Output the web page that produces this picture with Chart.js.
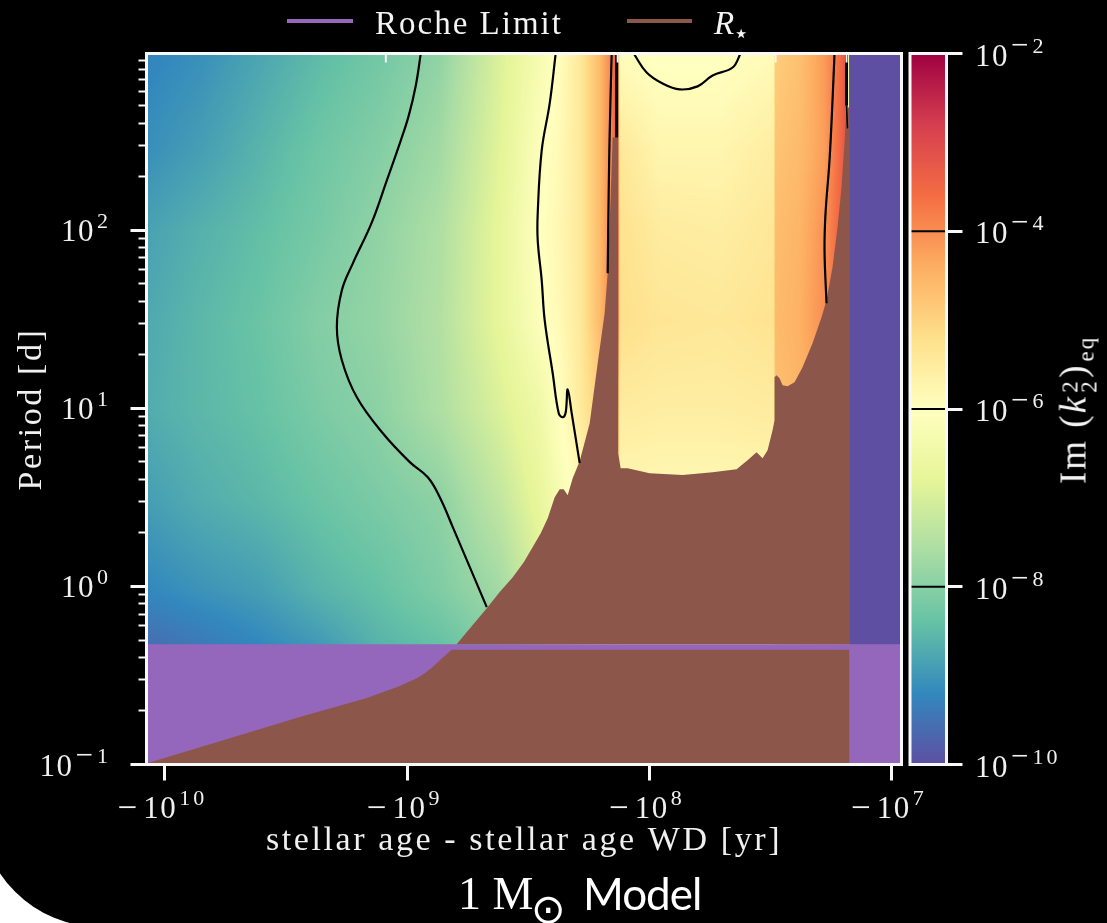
<!DOCTYPE html>
<html>
<head>
<meta charset="utf-8">
<title>1 M Model</title>
<script src="https://cdn.jsdelivr.net/npm/chart.js@4"></script>
<style>
  html, body { margin: 0; height: 100%; background: #fff; overflow: hidden; }
  #slide { position: absolute; left: -20px; top: 0; width: 1127px; height: 927px; background: #000; border-bottom-left-radius: 120px; }
  canvas { position: absolute; left: 0; top: 0; filter: blur(0.5px); }
  .txt { position: absolute; color: #f4f4f4; white-space: nowrap; font-family: "Liberation Serif", serif; font-size: 33px; letter-spacing: 2px; line-height: 1; filter: blur(0.4px); }
  .swatch { position: absolute; height: 4px; top: 19px; filter: blur(0.4px); }
  #cbLabel { left: 1073px; top: 410px; font-size: 37px; letter-spacing: 2px; transform: translate(-50%, -50%) rotate(-90deg); }
  .sm { font-size: 23px; }
  .stack { display: inline-block; position: relative; width: 17px; height: 10px; }
  .stack b { position: absolute; left: 2px; font-weight: normal; font-size: 23px; }
</style>
</head>
<body>
<div id="slide"></div>
<canvas id="grafico" width="1107" height="923"></canvas>
<canvas id="barra" width="1107" height="923"></canvas>

<div class="swatch" style="left:287px;width:66px;background:#9467bd"></div>
<div class="txt" style="left:375px;top:7px">Roche Limit</div>
<div class="swatch" style="left:627px;width:65px;background:#8c564b"></div>
<div class="txt" style="left:714px;top:7px"><i>R</i><span style="position:relative;top:8px;font-size:26px;margin-left:-3px">⋆</span></div>
<div class="txt" style="left:458px;top:871px;font-size:46px;letter-spacing:0;color:#fff">1 M</div>
<div class="txt" style="left:531px;top:889px;font-family:'DejaVu Sans',sans-serif;font-size:41px;letter-spacing:0;color:#fff">⊙</div>
<div class="txt" style="left:583px;top:871px;font-family:Lato,sans-serif;font-size:44px;letter-spacing:-1px;color:#fff">Model</div>
<div class="txt" id="cbLabel">Im (<i>k</i><span class="stack"><b style="top:-17px">2</b><b style="top:2px">2</b></span>)<span class="sm" style="position:relative;top:8px;margin-left:2px">eq</span></div>

<script>
// eixos
const ageMin = 9.09e6, ageMax = 1.192e10;
const periodMin = 0.1, periodMax = 983;
const xTickValues = [1e10, 1e9, 1e8, 1e7];
const xTickExps = ["10", "9", "8", "7"];
const yTickValues = [0.1, 1, 10, 100];
const yTickExps = ["−1", "0", "1", "2"];
const yMinorTicks = [0.2, 0.3, 0.4, 0.5, 0.6, 0.7, 0.8, 0.9, 2, 3, 4, 5, 6, 7, 8, 9, 20, 30, 40, 50, 60, 70, 80, 90, 200, 300, 400, 500, 600, 700, 800, 900];
const cbTickValues = [1e-10, 1e-8, 1e-6, 1e-4, 1e-2];
const cbTickExps = ["−10", "−8", "−6", "−4", "−2"];
const contourLevels = [1e-8, 1e-6, 1e-4];

// Spectral_r
const cmapStops = [-10, -9.2, -8.4, -7.6, -6.8, -6, -5.2, -4.4, -3.6, -2.8, -2];
const cmapColors = ["#5e4fa2", "#3288bd", "#66c2a5", "#abdda4", "#e6f598", "#ffffbf", "#fee08b", "#fdae61", "#f46d43", "#d53e4f", "#9e0142"];

// mapa de calor: log10 da idade, log10 do periodo, log10 de Im(k2)
const heatLogAge = [10.07, 9.856, 9.608, 9.36, 9.113, 8.865, 8.618, 8.453, 8.37, 8.288, 8.205, 8.155, 8.131, 8.122, 7.957, 7.71, 7.503, 7.487, 7.479, 7.38, 7.276, 7.215, 7.182, 7.173, 6.959];
const heatLogPeriod = [2.99, 2.45, 2.0, 1.49, 0.99, 0.48, -0.02, -0.32, -1];
const heatLogK = [
  [-9.25, -9.1, -8.8, -8.5, -8.25, -7.9, -6.95, -6.3, -5.95, -5.45, -4.6, -3.85, -3.1, -5.95, -6.05, -6.05, -5.9, -5.9, -4.9, -4.7, -4.15, -3.6, -3.1, -10, -10],
  [-9.1, -8.9, -8.6, -8.3, -8.05, -7.7, -6.85, -6.1, -5.85, -5.45, -4.6, -3.85, -3.1, -5.4, -5.75, -5.75, -5.55, -5.5, -4.75, -4.6, -4.2, -3.55, -3.1, -10, -10],
  [-8.85, -8.65, -8.45, -8.2, -7.9, -7.55, -6.75, -6.02, -5.8, -5.45, -4.6, -3.85, -3.1, -5.25, -5.5, -5.55, -5.4, -5.4, -4.65, -4.5, -4.05, -3.5, -3.1, -10, -10],
  [-8.75, -8.55, -8.35, -8.05, -7.85, -7.5, -6.75, -6.1, -5.85, -5.45, -4.6, -3.85, -3.1, -5.2, -5.35, -5.4, -5.3, -5.3, -4.6, -4.45, -4.0, -3.6, -3.1, -10, -10],
  [-8.7, -8.55, -8.4, -8.15, -7.95, -7.55, -6.95, -6.5, -6.0, -5.5, -4.9, -4.5, -4.0, -5.5, -5.55, -5.55, -5.5, -5.5, -4.7, -4.5, -4.2, -3.8, -3.5, -10, -10],
  [-8.9, -8.7, -8.55, -8.35, -8.15, -7.95, -7.3, -6.7, -6.3, -5.9, -5.5, -5.0, -4.5, -5.8, -5.85, -5.85, -5.8, -5.8, -4.8, -4.6, -4.3, -4.0, -3.8, -10, -10],
  [-9.2, -9.05, -8.9, -8.6, -8.4, -8.1, -7.7, -7.0, -6.6, -6.2, -5.8, -5.4, -5.0, -5.9, -5.9, -5.9, -5.9, -5.9, -4.9, -4.7, -4.4, -4.2, -4.0, -10, -10],
  [-9.55, -9.4, -9.2, -8.95, -8.6, -8.4, -8.0, -7.4, -7.0, -6.6, -6.2, -5.8, -5.4, -5.9, -5.9, -5.9, -5.9, -5.9, -4.9, -4.7, -4.4, -4.2, -4.0, -10, -10],
  [-9.55, -9.4, -9.2, -8.95, -8.6, -8.4, -8.0, -7.4, -7.0, -6.6, -6.2, -5.8, -5.4, -5.9, -5.9, -5.9, -5.9, -5.9, -4.9, -4.7, -4.4, -4.2, -4.0, -10, -10],
];

// contornos
const c1Age = [8.9436, 8.9642, 8.9931, 9.0261, 9.0839, 9.1458, 9.2242, 9.2696, 9.2902, 9.2696, 9.2077, 9.1004, 8.989, 8.9147, 8.8652, 8.8115, 8.6712];
const c1Per = [2.993, 2.813, 2.645, 2.505, 2.28, 2.044, 1.814, 1.663, 1.455, 1.27, 1.062, 0.86, 0.698, 0.613, 0.501, 0.333, -0.116];
const c2Age = [8.3865, 8.4113, 8.4443, 8.4608, 8.4608, 8.4443, 8.4319, 8.3989, 8.3741, 8.3576, 8.3452, 8.337, 8.3205, 8.2875];
const c2Per = [2.993, 2.712, 2.448, 2.095, 1.943, 1.719, 1.494, 1.197, 0.973, 0.95, 0.978, 1.107, 0.973, 0.692];
const c3Age = [8.1554, 8.1636, 8.1678, 8.1719];
const c3Per = [2.993, 2.544, 2.2, 1.758];
const c4Age = [8.1347, 8.1347];
const c4Per = [2.993, 2.521];
const c5Age = [8.0646, 8.011, 7.9449, 7.8748, 7.8005, 7.7386, 7.6561, 7.6231];
const c5Per = [2.993, 2.886, 2.824, 2.791, 2.808, 2.869, 2.914, 2.993];
const c6Age = [7.2352, 7.2434, 7.2558, 7.2723, 7.2764, 7.2682];
const c6Per = [2.993, 2.729, 2.392, 2.095, 1.887, 1.59];
const c7Age = [7.1857, 7.1857];
const c7Per = [2.993, 2.701];
const c8Age = [7.1857, 7.1815];
const c8Per = [2.701, 2.572];

// marquinhas brancas no topo
const notchAge = [9.088, 8.1306, 7.4786, 7.1857];
const notchPer = [2.993, 2.942];

// raio da estrela (acima e abaixo da faixa do limite de Roche)
const starTopAge = [8.795, 8.6712, 8.6176, 8.5639, 8.5185, 8.4814, 8.4484, 8.4195, 8.3906, 8.37, 8.3535, 8.337, 8.3164, 8.2875, 8.2462, 8.2131, 8.1843, 8.1719, 8.1595, 8.1513, 8.1286, 8.1286, 8.1183, 8.0894, 7.9986, 7.8624, 7.7386, 7.6396, 7.5942, 7.5571, 7.5323, 7.5116, 7.491, 7.4828, 7.4828, 7.4745, 7.4621, 7.4497, 7.4291, 7.4002, 7.3672, 7.3259, 7.2888, 7.2682, 7.2434, 7.2228, 7.2062, 7.1939, 7.1857, 7.1733, 7.1733];
const starTopPer = [-0.324, -0.122, -0.032, 0.052, 0.136, 0.221, 0.299, 0.383, 0.501, 0.546, 0.546, 0.512, 0.608, 0.703, 0.916, 1.253, 1.534, 1.758, 2.185, 2.521, 2.521, 0.748, 0.664, 0.664, 0.636, 0.625, 0.641, 0.658, 0.709, 0.754, 0.72, 0.765, 0.877, 0.933, 1.175, 1.186, 1.169, 1.13, 1.124, 1.146, 1.231, 1.365, 1.511, 1.607, 1.792, 2.016, 2.241, 2.488, 2.69, 2.69, -0.324];
const starLowAge = [10.0702, 9.5791, 9.4429, 9.1664, 9.0302, 8.9601, 8.9271, 8.8941, 8.8652, 8.8157, 7.1733];
const starLowPer = [-0.992, -0.79, -0.733, -0.627, -0.559, -0.515, -0.487, -0.453, -0.414, -0.355, -0.355];

// limite de Roche
const rocheAge = [ageMax, ageMin];
const rochePeriod = [0.474, 0.474];
const rocheColor = "#9467bd";
const starColor = "#8c564b";

const pares = (ages, pers) => ages.map((a, i) => ({ x: Math.pow(10, a), y: Math.pow(10, pers[i]) }));

const contorno = (ages, pers, largura) => ({
  data: pares(ages, pers),
  showLine: true,
  borderColor: "#000",
  borderWidth: largura,
  pointRadius: 0,
  tension: 0.4,
});

function hexRgb(h) {
  return [parseInt(h.slice(1, 3), 16), parseInt(h.slice(3, 5), 16), parseInt(h.slice(5, 7), 16)];
}
const cmapRgb = cmapColors.map(hexRgb);

function corDoValor(v) {
  if (v <= cmapStops[0]) return cmapRgb[0];
  for (let i = 1; i < cmapStops.length; i++) {
    if (v <= cmapStops[i]) {
      const t = (v - cmapStops[i - 1]) / (cmapStops[i] - cmapStops[i - 1]);
      return cmapRgb[i].map((c, k) => cmapRgb[i - 1][k] + (c - cmapRgb[i - 1][k]) * t);
    }
  }
  return cmapRgb[cmapRgb.length - 1];
}

function achaIntervalo(nos, p) {
  let i = 0;
  while (i < nos.length - 2 && p >= nos[i + 1]) i++;
  let t = (p - nos[i]) / (nos[i + 1] - nos[i]);
  t = Math.max(0, Math.min(1, t));
  return [i, t];
}

// pinta a malha de calor pelas escalas do grafico
const pluginCalor = {
  id: "calor",
  beforeDatasetsDraw(chart) {
    const { ctx, chartArea: a, scales } = chart;
    const xs = heatLogAge.map((v) => scales.x.getPixelForValue(Math.pow(10, v)));
    const ys = heatLogPeriod.map((v) => scales.y.getPixelForValue(Math.pow(10, v)));
    const x0 = Math.floor(a.left), y0 = Math.floor(a.top);
    const w = Math.ceil(a.right) - x0, h = Math.ceil(a.bottom) - y0;
    const aux = document.createElement("canvas");
    aux.width = w;
    aux.height = h;
    const actx = aux.getContext("2d");
    const img = actx.createImageData(w, h);
    for (let py = 0; py < h; py++) {
      const [r, tr] = achaIntervalo(ys, y0 + py + 0.5);
      for (let px = 0; px < w; px++) {
        const [c, tc] = achaIntervalo(xs, x0 + px + 0.5);
        const v0 = heatLogK[r][c] + (heatLogK[r][c + 1] - heatLogK[r][c]) * tc;
        const v1 = heatLogK[r + 1][c] + (heatLogK[r + 1][c + 1] - heatLogK[r + 1][c]) * tc;
        const cor = corDoValor(v0 + (v1 - v0) * tr);
        const o = (py * w + px) * 4;
        img.data[o] = cor[0];
        img.data[o + 1] = cor[1];
        img.data[o + 2] = cor[2];
        img.data[o + 3] = 255;
      }
    }
    actx.putImageData(img, 0, 0);
    ctx.drawImage(aux, x0, y0);
  },
};

// largura de um pedaco de texto com sua fonte
function medir(ctx, texto, fonte, espaco) {
  ctx.font = fonte;
  ctx.letterSpacing = espaco;
  return ctx.measureText(texto).width;
}

function pedaco(ctx, texto, fonte, espaco, x, y) {
  ctx.font = fonte;
  ctx.letterSpacing = espaco;
  ctx.fillText(texto, x, y);
}

// rotulo tipo -10^n: o sinal vem maior que o do Liberation, igual ao da figura
function escreveTick(ctx, sinal, exp, x, y, alinhamento) {
  const fBase = "31px 'Liberation Serif', serif";
  const fExp = "22px 'Liberation Serif', serif";
  const fMenos = "31px 'Liberation Serif', serif";
  const negativo = exp.startsWith("−");
  const digitos = negativo ? exp.slice(1) : exp;
  const lSinal = sinal ? medir(ctx, "−", "35px 'Liberation Serif', serif", "0px") + 6 : 0;
  const lBase = medir(ctx, "10", fBase, "1.5px") + 2;
  const lMenos = negativo ? medir(ctx, "−", fMenos, "0px") + 4 : 0;
  const lDig = medir(ctx, digitos, fExp, "3px");
  const total = lSinal + lBase + lMenos + lDig;
  let p = x;
  if (alinhamento === "center") p = x - total / 2;
  if (alinhamento === "right") p = x - total;
  ctx.fillStyle = "#f0f0f0";
  ctx.textAlign = "left";
  ctx.textBaseline = "alphabetic";
  if (sinal) pedaco(ctx, "−", "35px 'Liberation Serif', serif", "0px", p, y + 1);
  p += lSinal;
  pedaco(ctx, "10", fBase, "1.5px", p, y);
  p += lBase;
  if (negativo) pedaco(ctx, "−", fMenos, "0px", p, y - 11);
  p += lMenos;
  pedaco(ctx, digitos, fExp, "3px", p, y - 13);
}

// moldura branca + rotulos dos eixos
const pluginMoldura = {
  id: "moldura",
  beforeDraw(chart) {
    chart.ctx.letterSpacing = "2.6px";
  },
  afterDraw(chart) {
    const { ctx, chartArea: a, scales } = chart;
    ctx.save();
    ctx.strokeStyle = "#f8f8f8";
    ctx.lineWidth = 3;
    ctx.strokeRect(a.left, a.top, a.right - a.left, a.bottom - a.top);
    if (chart.canvas.id === "grafico") {
      xTickValues.forEach((v, i) => escreveTick(ctx, true, xTickExps[i], scales.x.getPixelForValue(v) - 2.5, 818, "center"));
      yTickValues.forEach((v, i) => escreveTick(ctx, false, yTickExps[i], 111, scales.y.getPixelForValue(v) + 11, "right"));
    } else {
      cbTickValues.forEach((v, i) => escreveTick(ctx, false, cbTickExps[i], 975, scales.y.getPixelForValue(v) + 12, "left"));
    }
    ctx.restore();
  },
};

// gradiente da barra de cores
const pluginBarra = {
  id: "barraCores",
  beforeDatasetsDraw(chart) {
    const { ctx, chartArea: a, scales } = chart;
    const topo = scales.y.getPixelForValue(Math.pow(10, cmapStops[cmapStops.length - 1]));
    const base = scales.y.getPixelForValue(Math.pow(10, cmapStops[0]));
    const grad = ctx.createLinearGradient(0, base, 0, topo);
    cmapStops.forEach((s, i) => {
      grad.addColorStop((s - cmapStops[0]) / (cmapStops[cmapStops.length - 1] - cmapStops[0]), cmapColors[i]);
    });
    ctx.save();
    ctx.fillStyle = grad;
    ctx.fillRect(a.left, a.top, a.right - a.left, a.bottom - a.top);
    ctx.restore();
  },
};

const fonteTitulo = { family: "'Liberation Serif', serif", size: 34 };

const graficoPrincipal = new Chart(document.getElementById("grafico"), {
  type: "scatter",
  data: {
    datasets: [
      ...notchAge.map((a) => ({
        data: pares([a, a], notchPer),
        showLine: true,
        borderColor: "#f8f8f8",
        borderWidth: 2,
        pointRadius: 0,
      })),
      contorno(c7Age, c7Per, 3),
      contorno(c8Age, c8Per, 1.5),
      contorno(c4Age, c4Per, 3),
      contorno(c1Age, c1Per, 2.2),
      contorno(c2Age, c2Per, 2.2),
      contorno(c3Age, c3Per, 2.2),
      contorno(c5Age, c5Per, 2.2),
      contorno(c6Age, c6Per, 2.2),
      {
        label: "R⋆",
        data: pares(starTopAge, starTopPer),
        showLine: true,
        borderWidth: 0,
        pointRadius: 0,
        backgroundColor: starColor,
        fill: { value: 0.474 },
      },
      {
        label: "R⋆ (abaixo)",
        data: pares(starLowAge, starLowPer),
        showLine: true,
        borderWidth: 0,
        pointRadius: 0,
        backgroundColor: starColor,
        fill: { value: periodMin },
      },
      {
        label: "Roche Limit",
        data: rocheAge.map((a, i) => ({ x: a, y: rochePeriod[i] })),
        showLine: true,
        borderWidth: 0,
        pointRadius: 0,
        backgroundColor: rocheColor,
        fill: { value: periodMin },
      },
    ],
  },
  options: {
    responsive: false,
    animation: false,
    events: [],
    layout: { padding: { top: 53.5, right: 205.5, left: 0, bottom: 0 } },
    plugins: { legend: { display: false }, tooltip: { enabled: false } },
    scales: {
      x: {
        type: "logarithmic",
        reverse: true,
        min: ageMin,
        max: ageMax,
        afterBuildTicks: (s) => { s.ticks = xTickValues.map((v) => ({ value: v })); },
        afterFit: (s) => { s.height = 158.5; },
        border: { display: false },
        grid: { drawOnChartArea: false, color: "#f8f8f8", tickColor: "#f8f8f8", tickWidth: 3, tickLength: 16 },
        ticks: { display: false, autoSkip: false },
        title: {
          display: true,
          text: "stellar age - stellar age WD [yr]",
          color: "#f0f0f0",
          font: fonteTitulo,
          padding: { top: 0, bottom: 62 },
        },
      },
      y: {
        type: "logarithmic",
        weight: 1,
        min: periodMin,
        max: periodMax,
        afterBuildTicks: (s) => { s.ticks = yTickValues.map((v) => ({ value: v })); },
        afterFit: (s) => { s.width = 146.5; },
        border: { display: false },
        grid: { drawOnChartArea: false, color: "#f8f8f8", tickColor: "#f8f8f8", tickWidth: 3, tickLength: 16 },
        ticks: { display: false, autoSkip: false },
        title: {
          display: true,
          text: "Period [d]",
          color: "#f0f0f0",
          font: fonteTitulo,
          padding: { top: 12, bottom: 0 },
        },
      },
      yMenor: {
        type: "logarithmic",
        position: "left",
        weight: 0,
        min: periodMin,
        max: periodMax,
        afterBuildTicks: (s) => { s.ticks = yMinorTicks.map((v) => ({ value: v })); },
        afterFit: (s) => { s.width = 0; },
        border: { display: false },
        grid: { drawOnChartArea: false, color: "#f8f8f8", tickColor: "#f8f8f8", tickWidth: 2, tickLength: 8 },
        ticks: { display: false, autoSkip: false },
      },
    },
  },
  plugins: [pluginCalor, pluginMoldura],
});

const graficoBarra = new Chart(document.getElementById("barra"), {
  type: "scatter",
  data: {
    datasets: contourLevels.map((nivel) => ({
      data: [{ x: 0, y: nivel }, { x: 1, y: nivel }],
      showLine: true,
      borderColor: "#000",
      borderWidth: 2,
      pointRadius: 0,
    })),
  },
  options: {
    responsive: false,
    animation: false,
    events: [],
    layout: { padding: { top: 53.5, left: 910, right: 0, bottom: 158.5 } },
    plugins: { legend: { display: false }, tooltip: { enabled: false } },
    scales: {
      x: { type: "linear", min: 0, max: 1, display: false },
      y: {
        type: "logarithmic",
        position: "right",
        min: 1e-10,
        max: 1e-2,
        afterBuildTicks: (s) => { s.ticks = cbTickValues.map((v) => ({ value: v })); },
        afterFit: (s) => { s.width = 160.5; },
        border: { display: false },
        grid: { drawOnChartArea: false, color: "#f8f8f8", tickColor: "#f8f8f8", tickWidth: 3, tickLength: 16 },
        ticks: { display: false, autoSkip: false },
      },
    },
  },
  plugins: [pluginBarra, pluginMoldura],
});
</script>
</body>
</html>
